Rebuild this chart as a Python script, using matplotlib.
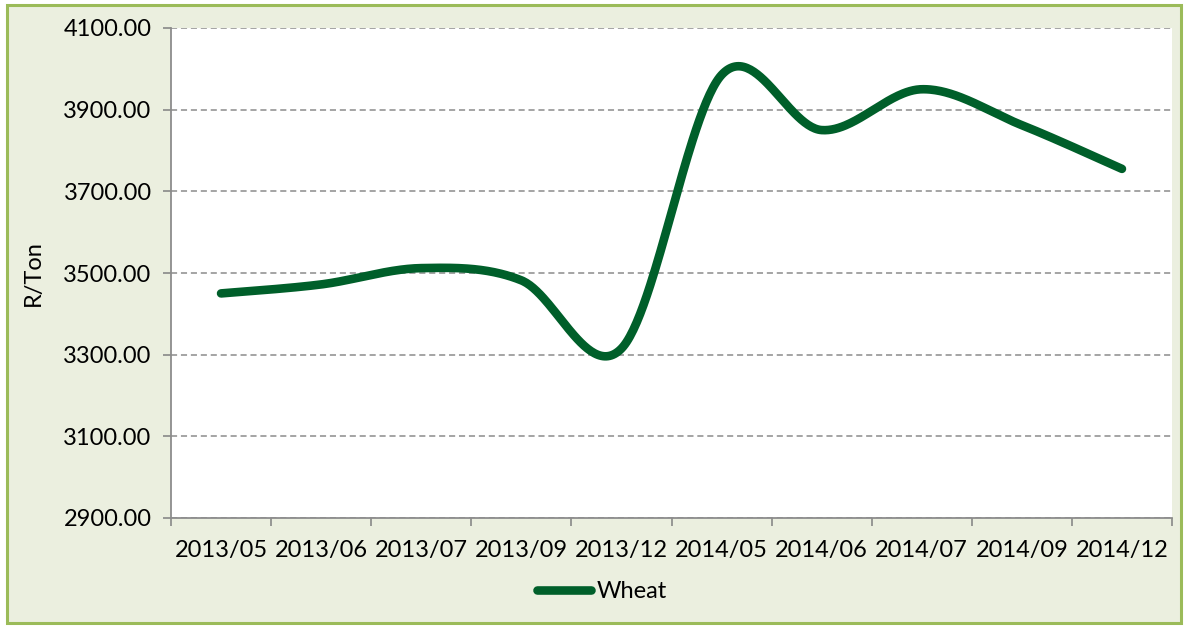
import numpy as np
import matplotlib
matplotlib.use("Agg")
import matplotlib.pyplot as plt
from matplotlib.patches import Rectangle
from matplotlib.lines import Line2D

categories = ["2013/05", "2013/06", "2013/07", "2013/09", "2013/12",
              "2014/05", "2014/06", "2014/07", "2014/09", "2014/12"]
wheat = [3450, 3472, 3512, 3482, 3315, 3985, 3850, 3950, 3862, 3755]
yticks = [2900, 3100, 3300, 3500, 3700, 3900, 4100]

plt.rcParams['font.family'] = ['Lato', 'DejaVu Sans']
FS = 17

W, H = 1185, 626
fig = plt.figure(figsize=(W / 100, H / 100), dpi=100)
bg = '#EBEFDF'
fig.patch.set_facecolor('white')
frame = Rectangle((7 / W, 1 - 623 / H), (1181 - 7) / W, (623 - 5) / H,
                  transform=fig.transFigure, facecolor=bg,
                  edgecolor='#9BBB59', linewidth=2.2, zorder=-10)
fig.add_artist(frame)

ax = fig.add_axes([171 / W, 1 - 518 / H, (1172 - 171) / W, (518 - 28) / H])
ax.set_facecolor('white')
ax.set_zorder(1)

# Excel-like smoothed line (cubic Bezier through points)
x = np.arange(len(wheat), dtype=float)
y = np.array(wheat, dtype=float)
xs, ys = [], []
n = len(x)
for i in range(n - 1):
    p0 = np.array([x[i], y[i]])
    p3 = np.array([x[i + 1], y[i + 1]])
    pm = np.array([x[i - 1], y[i - 1]]) if i > 0 else p0
    pp = np.array([x[i + 2], y[i + 2]]) if i + 2 < n else p3
    c1 = p0 + (p3 - pm) / 6.0
    c2 = p3 - (pp - p0) / 6.0
    t = np.linspace(0, 1, 60)[:, None]
    seg = ((1 - t) ** 3) * p0 + 3 * ((1 - t) ** 2) * t * c1 + 3 * (1 - t) * t ** 2 * c2 + t ** 3 * p3
    xs.extend(seg[:, 0]); ys.extend(seg[:, 1])

line_color = '#005F2A'
ax.plot(xs, ys, color=line_color, linewidth=6.2, solid_capstyle='round', zorder=3)

ax.set_xlim(-0.5, len(categories) - 0.5)
ax.set_ylim(2900, 4100)
ax.set_yticks(yticks)
ax.set_yticklabels([f"{v:.2f}" for v in yticks], fontsize=FS)
ax.set_xticks(x)
ax.set_xticklabels(categories, fontsize=FS)
ax.set_xticks(np.arange(-0.5, len(categories), 1.0), minor=True)
ax.tick_params(axis='x', which='major', length=0, pad=16)
ax.tick_params(axis='x', which='minor', length=6, color='#888888', width=1.2)
ax.tick_params(axis='y', length=6, color='#888888', width=1.2, pad=8)

for s in ['top', 'right']:
    ax.spines[s].set_visible(False)
for s in ['left', 'bottom']:
    ax.spines[s].set_color('#8C8C8C')
    ax.spines[s].set_linewidth(1.3)

ax.yaxis.grid(True, linestyle=(0, (4, 2.5)), color='#8C8C8C', linewidth=1.1)
ax.set_axisbelow(True)

ax.set_ylabel('R/Ton', fontsize=FS, labelpad=14)

handle = Line2D([0], [0], color=line_color, linewidth=6.2, solid_capstyle='round')
fig.legend([handle], ['Wheat'], loc='center', bbox_to_anchor=(602 / W, 1 - 592 / H),
           frameon=False, fontsize=FS, handlelength=2.3, handletextpad=0.25)

fig.savefig('out.png', dpi=100, facecolor=fig.get_facecolor())
